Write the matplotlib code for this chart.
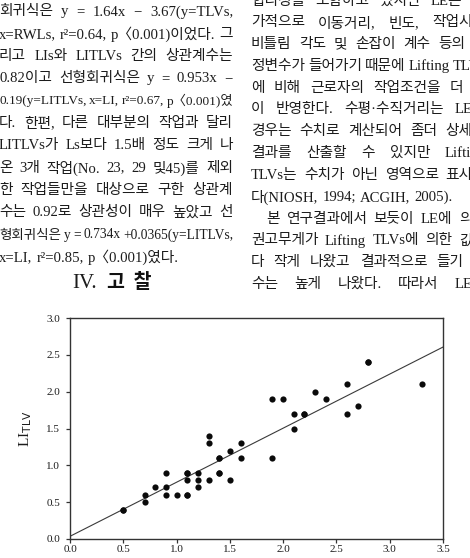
import matplotlib
matplotlib.use('Agg')
import matplotlib.pyplot as plt
import matplotlib.transforms as mtransforms
import numpy as np

# ---------------- data ----------------
li = [0.5, 0.5, 0.7, 0.7, 0.8, 0.9, 0.9, 0.9, 1.0,
      1.1, 1.1, 1.1, 1.1, 1.1, 1.2, 1.2, 1.2, 1.3, 1.3, 1.3,
      1.4, 1.4, 1.4, 1.4, 1.5, 1.5, 1.6, 1.6, 1.9, 1.9, 2.0,
      2.1, 2.1, 2.2, 2.2, 2.3, 2.4, 2.6, 2.6, 2.7, 2.8, 2.8, 3.3]
li_tlv = [0.4, 0.4, 0.6, 0.5, 0.7, 0.9, 0.7, 0.6, 0.6,
          0.9, 0.9, 0.8, 0.6, 0.6, 0.9, 0.8, 0.7, 1.4, 1.3, 0.8,
          1.1, 1.1, 0.9, 0.9, 1.2, 0.8, 1.3, 1.1, 1.9, 1.1, 1.9,
          1.7, 1.5, 1.7, 1.7, 2.0, 1.9, 2.1, 1.7, 1.8, 2.4, 2.4, 2.1]
slope = 0.734
intercept = 0.0365
x_ticks = [0.0, 0.5, 1.0, 1.5, 2.0, 2.5, 3.0, 3.5]
y_ticks = [0.0, 0.5, 1.0, 1.5, 2.0, 2.5, 3.0]
y_label = 'LI'
y_label_sub = 'TLV'

left_lines = [
    "회귀식은 y = 1.64x − 3.67(y=TLVs,",
    "x=RWLs, r²=0.64, p〈0.001)이었다. 그",
    "리고 LIs와 LITLVs 간의 상관계수는",
    "0.82이고 선형회귀식은 y = 0.953x −",
    "0.19(y=LITLVs, x=LI, r²=0.67, p〈0.001)였",
    "다. 한편, 다른 대부분의 작업과 달리",
    "LITLVs가 Ls보다 1.5배 정도 크게 나",
    "온 3개 작업(No. 23, 29 및45)를 제외",
    "한 작업들만을 대상으로 구한 상관계",
    "수는 0.92로 상관성이 매우 높았고 선",
    "형회귀식은 y = 0.734x +0.0365(y=LITLVs,",
    "x=LI, r²=0.85, p〈0.001)였다.",
]
right_lines = [
    "합리성을 포함하고 있지만 LE는 추",
    "가적으로 이동거리, 빈도, 작업시간",
    "비틀림 각도 및 손잡이 계수 등의 보",
    "정변수가 들어가기 때문에 Lifting TLVs",
    "에 비해 근로자의 작업조건을 더 많",
    "이 반영한다. 수평·수직거리는 LE의",
    "경우는 수치로 계산되어 좀더 상세한",
    "결과를 산출할 수 있지만 Lifting",
    "TLVs는 수치가 아닌 영역으로 표시된",
    "다(NIOSH, 1994; ACGIH, 2005).",
    "본 연구결과에서 보듯이 LE에 의한",
    "권고무게가 Lifting TLVs에 의한 값보",
    "다 작게 나왔고 결과적으로 들기 지",
    "수는 높게 나왔다. 따라서 LE에",
]
heading_num = "IV."
heading_txt = "고  찰"

# ---------------- figure ----------------
W, H = 470, 558
fig = plt.figure(figsize=(W / 100, H / 100), dpi=100)
fig.patch.set_facecolor('white')
FAM = ['Liberation Serif', 'Noto Sans CJK KR']
TXT = '#1c1c1c'
ident = mtransforms.IdentityTransform()
renderer = fig.canvas.get_renderer()


def place_line(text, x0, x1, ytop, justify=True, fs=10.6, min_gap=2.5):
    words = text.split(' ')
    objs = [fig.text(0, H - ytop, w, fontsize=fs, family=FAM, color=TXT,
                     va='center', ha='left', transform=ident) for w in words]

    def measure():
        return [t.get_window_extent(renderer=renderer).width for t in objs]

    widths = measure()
    need = sum(widths) + min_gap * (len(words) - 1)
    if need > (x1 - x0):
        f = fs * (x1 - x0 - min_gap * (len(words) - 1)) / sum(widths)
        for t in objs:
            t.set_fontsize(f)
        widths = measure()
    if justify and len(words) > 1:
        gap = (x1 - x0 - sum(widths)) / (len(words) - 1)
        gap = max(gap, min_gap)
    else:
        gap = 4.0
    x = x0
    for t, wd in zip(objs, widths):
        t.set_x(x)
        x += wd + gap


# left column
for k, line in enumerate(left_lines):
    y = 12 + 22.3 * k
    place_line(line, -1, 233, y, justify=(k != len(left_lines) - 1))

# right column
for k, line in enumerate(right_lines):
    y = 1 + 21.8 * k
    x0 = 251
    if k == 10:
        x0 = 266
    place_line(line, x0, 486, y, justify=(k != 9))

# heading
fig.text(72, H - 283, heading_num, fontsize=15, family=['Liberation Serif'],
         color=TXT, va='center', ha='left', transform=ident)
fig.text(107, H - 283, heading_txt, fontsize=14, family=['Noto Sans CJK KR'],
         fontweight='bold', color='#111111', va='center', ha='left',
         transform=ident)

# ---------------- chart ----------------
ax_l, ax_r, ax_t, ax_b = 70, 443, 318, 539
ax = fig.add_axes([ax_l / W, (H - ax_b) / H, (ax_r - ax_l) / W, (ax_b - ax_t) / H])
ax.set_xlim(x_ticks[0], x_ticks[-1])
ax.set_ylim(y_ticks[0], y_ticks[-1])

ax.scatter(li, li_tlv, s=20, color='#0a0a0a', zorder=3, linewidths=0)
xl = np.linspace(*ax.get_xlim(), 2)
ax.plot(xl, slope * xl + intercept, color='#3a3a3a', lw=0.8, zorder=2)

ax.set_xticks(x_ticks)
ax.set_yticks(y_ticks)
ax.set_xticklabels([f'{v:.1f}' for v in x_ticks], family='Liberation Serif', fontsize=8)
ax.set_yticklabels([f'{v:.1f}' for v in y_ticks], family='Liberation Serif', fontsize=8)
ax.tick_params(axis='y', direction='out', length=3, width=0.9, color='#333333',
               labelcolor=TXT, pad=4)
ax.tick_params(axis='x', direction='out', length=3, width=0.9, color='#333333',
               labelcolor=TXT, pad=1.5)
for s in ax.spines.values():
    s.set_linewidth(1.0)
    s.set_color('#333333')

plt.rcParams['mathtext.fontset'] = 'custom'
plt.rcParams['mathtext.rm'] = 'Liberation Serif'
ax.set_ylabel(y_label + r'$_{\mathrm{' + y_label_sub + '}}$', family='Liberation Serif',
              fontsize=11, color=TXT, labelpad=9)

fig.savefig('out.png', dpi=100, facecolor='white')
